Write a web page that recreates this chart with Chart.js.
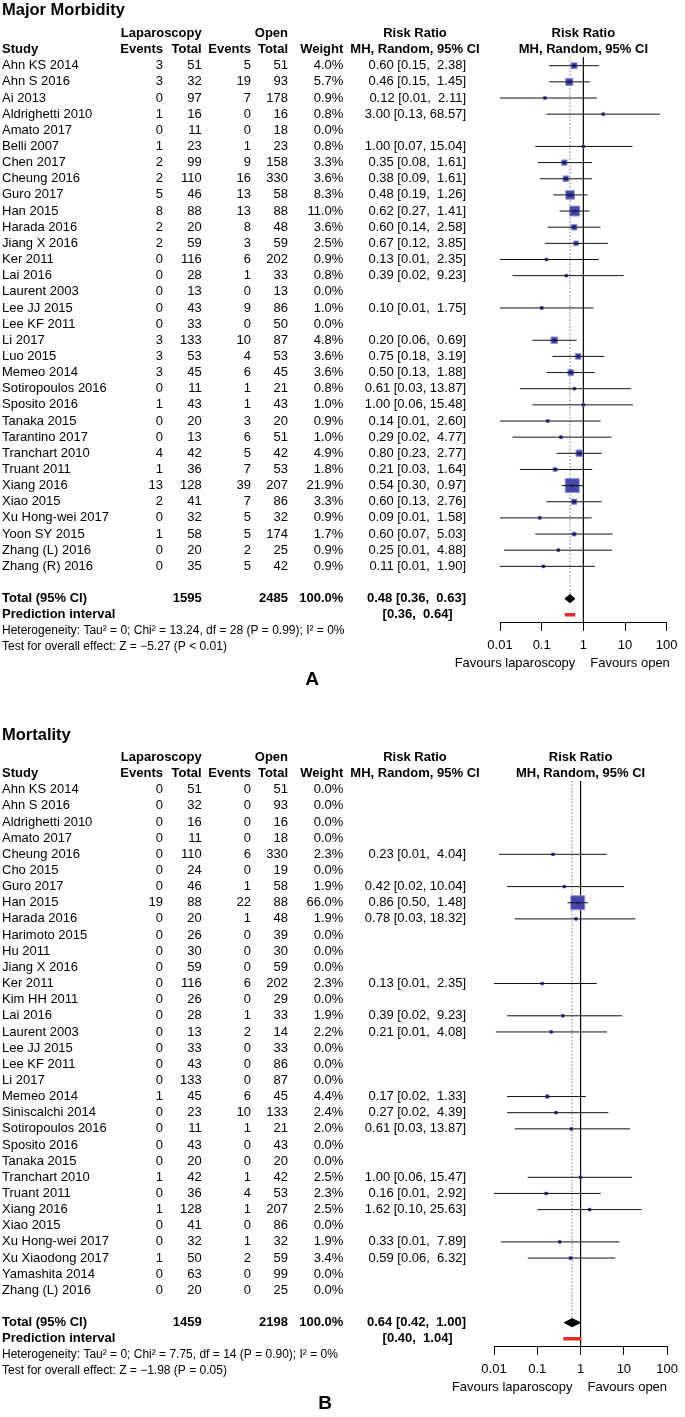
<!DOCTYPE html>
<html>
<head>
<meta charset="utf-8">
<script src="https://cdn.jsdelivr.net/npm/chart.js@4.4.1/dist/chart.umd.min.js"></script>
<style>
    html, body { margin: 0; padding: 0; background: #fff; }
    #wrap { position: relative; width: 685px; height: 1417px; }
    .panel { position: absolute; left: 0; }
</style>
</head>
<body>
<div id="wrap">
    <div class="panel" style="top:0"><canvas id="chartA" width="685" height="724"></canvas></div>
    <div class="panel" style="top:724px"><canvas id="chartB" width="685" height="693"></canvas></div>
</div>
<script>
// ---- data: Major Morbidity ----
const studiesA = ["Ahn KS 2014", "Ahn S 2016", "Ai 2013", "Aldrighetti 2010", "Amato 2017", "Belli 2007",
    "Chen 2017", "Cheung 2016", "Guro 2017", "Han 2015", "Harada 2016", "Jiang X 2016", "Ker 2011",
    "Lai 2016", "Laurent 2003", "Lee JJ 2015", "Lee KF 2011", "Li 2017", "Luo 2015", "Memeo 2014",
    "Sotiropoulos 2016", "Sposito 2016", "Tanaka 2015", "Tarantino 2017", "Tranchart 2010",
    "Truant 2011", "Xiang 2016", "Xiao 2015", "Xu Hong-wei 2017", "Yoon SY 2015", "Zhang (L) 2016",
    "Zhang (R) 2016"];
const lapEventsA = [3, 3, 0, 1, 0, 1, 2, 2, 5, 8, 2, 2, 0, 0, 0, 0, 0, 3, 3, 3, 0, 1, 0, 0, 4, 1, 13, 2, 0, 1, 0, 0];
const lapTotalA = [51, 32, 97, 16, 11, 23, 99, 110, 46, 88, 20, 59, 116, 28, 13, 43, 33, 133, 53, 45, 11, 43, 20, 13, 42, 36, 128, 41, 32, 58, 20, 35];
const openEventsA = [5, 19, 7, 0, 0, 1, 9, 16, 13, 13, 8, 3, 6, 1, 0, 9, 0, 10, 4, 6, 1, 1, 3, 6, 5, 7, 39, 7, 5, 5, 2, 5];
const openTotalA = [51, 93, 178, 16, 18, 23, 158, 330, 58, 88, 48, 59, 202, 33, 13, 86, 50, 87, 53, 45, 21, 43, 20, 51, 42, 53, 207, 86, 32, 174, 25, 42];
const weightA = [4.0, 5.7, 0.9, 0.8, 0.0, 0.8, 3.3, 3.6, 8.3, 11.0, 3.6, 2.5, 0.9, 0.8, 0.0, 1.0, 0.0, 4.8, 3.6, 3.6, 0.8, 1.0, 0.9, 1.0, 4.9, 1.8, 21.9, 3.3, 0.9, 1.7, 0.9, 0.9];
const rrA = [0.60, 0.46, 0.12, 3.00, null, 1.00, 0.35, 0.38, 0.48, 0.62, 0.60, 0.67, 0.13, 0.39, null, 0.10, null, 0.20, 0.75, 0.50, 0.61, 1.00, 0.14, 0.29, 0.80, 0.21, 0.54, 0.60, 0.09, 0.60, 0.25, 0.11];
const loA = [0.15, 0.15, 0.0068, 0.13, null, 0.07, 0.08, 0.09, 0.19, 0.27, 0.14, 0.12, 0.0075, 0.02, null, 0.006, null, 0.06, 0.18, 0.13, 0.03, 0.06, 0.0075, 0.02, 0.23, 0.03, 0.30, 0.13, 0.0057, 0.07, 0.0125, 0.006];
const hiA = [2.38, 1.45, 2.11, 68.57, null, 15.04, 1.61, 1.61, 1.26, 1.41, 2.58, 3.85, 2.35, 9.23, null, 1.75, null, 0.69, 3.19, 1.88, 13.87, 15.48, 2.60, 4.77, 2.77, 1.64, 0.97, 2.76, 1.58, 5.03, 4.88, 1.90];
const totalsA = [1595, 2485];
const pooledA = [0.48, 0.36, 0.63];
const predictA = [0.36, 0.64];
const hetA = ["Heterogeneity: Tau\u00b2 = 0; Chi\u00b2 = 13.24, df = 28 (P = 0.99); I\u00b2 = 0%",
    "Test for overall effect: Z = \u22125.27 (P < 0.01)"];

// ---- data: Mortality ----
const studiesB = ["Ahn KS 2014", "Ahn S 2016", "Aldrighetti 2010", "Amato 2017", "Cheung 2016", "Cho 2015",
    "Guro 2017", "Han 2015", "Harada 2016", "Harimoto 2015", "Hu 2011", "Jiang X 2016", "Ker 2011",
    "Kim HH 2011", "Lai 2016", "Laurent 2003", "Lee JJ 2015", "Lee KF 2011", "Li 2017", "Memeo 2014",
    "Siniscalchi 2014", "Sotiropoulos 2016", "Sposito 2016", "Tanaka 2015", "Tranchart 2010",
    "Truant 2011", "Xiang 2016", "Xiao 2015", "Xu Hong-wei 2017", "Xu Xiaodong 2017", "Yamashita 2014",
    "Zhang (L) 2016"];
const lapEventsB = [0, 0, 0, 0, 0, 0, 0, 19, 0, 0, 0, 0, 0, 0, 0, 0, 0, 0, 0, 1, 0, 0, 0, 0, 1, 0, 1, 0, 0, 1, 0, 0];
const lapTotalB = [51, 32, 16, 11, 110, 24, 46, 88, 20, 26, 30, 59, 116, 26, 28, 13, 33, 43, 133, 45, 23, 11, 43, 20, 42, 36, 128, 41, 32, 50, 63, 20];
const openEventsB = [0, 0, 0, 0, 6, 0, 1, 22, 1, 0, 0, 0, 6, 0, 1, 2, 0, 0, 0, 6, 10, 1, 0, 0, 1, 4, 1, 0, 1, 2, 0, 0];
const openTotalB = [51, 93, 16, 18, 330, 19, 58, 88, 48, 39, 30, 59, 202, 29, 33, 14, 33, 86, 87, 45, 133, 21, 43, 20, 42, 53, 207, 86, 32, 59, 99, 25];
const weightB = [0, 0, 0, 0, 2.3, 0, 1.9, 66.0, 1.9, 0, 0, 0, 2.3, 0, 1.9, 2.2, 0, 0, 0, 4.4, 2.4, 2.0, 0, 0, 2.5, 2.3, 2.5, 0, 1.9, 3.4, 0, 0];
const rrB = [null, null, null, null, 0.23, null, 0.42, 0.86, 0.78, null, null, null, 0.13, null, 0.39, 0.21, null, null, null, 0.17, 0.27, 0.61, null, null, 1.00, 0.16, 1.62, null, 0.33, 0.59, null, null];
const loB = [null, null, null, null, 0.013, null, 0.02, 0.50, 0.03, null, null, null, 0.0075, null, 0.02, 0.011, null, null, null, 0.02, 0.02, 0.03, null, null, 0.06, 0.0087, 0.10, null, 0.0145, 0.06, null, null];
const hiB = [null, null, null, null, 4.04, null, 10.04, 1.48, 18.32, null, null, null, 2.35, null, 9.23, 4.08, null, null, null, 1.33, 4.39, 13.87, null, null, 15.47, 2.92, 25.63, null, 7.89, 6.32, null, null];
const totalsB = [1459, 2198];
const pooledB = [0.64, 0.42, 1.00];
const predictB = [0.40, 1.04];
const hetB = ["Heterogeneity: Tau\u00b2 = 0; Chi\u00b2 = 7.75, df = 14 (P = 0.90); I\u00b2 = 0%",
    "Test for overall effect: Z = \u22121.98 (P = 0.05)"];

const tickValues = [0.01, 0.1, 1, 10, 100];
const tickLabels = ["0.01", "0.1", "1", "10", "100"];

// ---- layout ----
const FAM = '"Liberation Sans", Arial, Helvetica, sans-serif';
const REG = "13px " + FAM;
const BOLD = "bold 13px " + FAM;
const SMALL = "12px " + FAM;
const ROW_H = 16.15;
const Y_MIN = -0.55, Y_MAX = 34.5;
const TOP = 65.7 + Y_MIN * ROW_H;
const AXIS_H = 30;
const COL = { study: 2, lapEv: 163, lapTot: 201.7, openEv: 251, openTot: 288, weight: 343.3, ci: 466, rrHead: 415, pred: 452.7 };

function ciText(est, lo, hi) {
    const h = hi.toFixed(2);
    return (est !== null ? est.toFixed(2) + " " : "") + "[" + lo.toFixed(2) + "," + (h.length < 5 ? "  " : " ") + h + "]";
}

function makeTable(p) {
    return {
        id: "table" + p.key,
        afterDraw(chart) {
            const ctx = chart.ctx;
            const ys = chart.scales.y;
            const xs = chart.scales.x;
            const put = (t, x, r, align, font) => {
                ctx.font = font;
                ctx.textAlign = align;
                ctx.fillText(t, x, ys.getPixelForValue(r));
            };
            ctx.save();
            ctx.fillStyle = "#000";
            ctx.textBaseline = "middle";

            put(p.title, 2, p.titleRow, "left", "bold 16.5px " + FAM);
            // headers
            put("Laparoscopy", COL.lapTot, -2, "right", BOLD);
            put("Open", COL.openTot, -2, "right", BOLD);
            put("Risk Ratio", COL.rrHead, -2, "center", BOLD);
            put("Risk Ratio", xs.getPixelForValue(1), -2, "center", BOLD);
            put("Study", 2, -1, "left", BOLD);
            put("Events", COL.lapEv, -1, "right", BOLD);
            put("Total", COL.lapTot, -1, "right", BOLD);
            put("Events", COL.openEv, -1, "right", BOLD);
            put("Total", COL.openTot, -1, "right", BOLD);
            put("Weight", COL.weight, -1, "right", BOLD);
            put("MH, Random, 95% CI", COL.rrHead, -1, "center", BOLD);
            put("MH, Random, 95% CI", xs.getPixelForValue(1), -1, "center", BOLD);

            // study rows
            p.studies.forEach((s, i) => {
                put(s, 2, i, "left", REG);
                put(String(p.lapEv[i]), COL.lapEv, i, "right", REG);
                put(String(p.lapTot[i]), COL.lapTot, i, "right", REG);
                put(String(p.openEv[i]), COL.openEv, i, "right", REG);
                put(String(p.openTot[i]), COL.openTot, i, "right", REG);
                put(p.weight[i].toFixed(1) + "%", COL.weight, i, "right", REG);
                if (p.rr[i] !== null) put(ciText(p.rr[i], p.lo[i], p.hi[i]), COL.ci, i, "right", REG);
            });

            const n = p.studies.length;
            put("Total (95% CI)", 2, n + 1, "left", BOLD);
            put(String(p.totals[0]), COL.lapTot, n + 1, "right", BOLD);
            put(String(p.totals[1]), COL.openTot, n + 1, "right", BOLD);
            put("100.0%", COL.weight, n + 1, "right", BOLD);
            put(ciText(p.pooled[0], p.pooled[1], p.pooled[2]), COL.ci, n + 1, "right", BOLD);
            put("Prediction interval", 2, n + 2, "left", BOLD);
            put(ciText(null, p.predict[0], p.predict[1]), COL.pred, n + 2, "right", BOLD);
            put(p.het[0], 2, n + 3, "left", SMALL);
            put(p.het[1], 2, n + 4, "left", SMALL);

            put("Favours laparoscopy", xs.getPixelForValue(1) - 8, n + 5, "right", REG);
            put("Favours open", xs.getPixelForValue(1) + 7, n + 5, "left", REG);
            put(p.letter, p.letterX, n + 6, "center", "bold 19px " + FAM);
            ctx.restore();
        }
    };
}

function buildChart(id, p) {
    const canvas = document.getElementById(id);
    const n = p.studies.length;
    const maxW = Math.max(...p.weight);

    const points = [];
    const sizes = [];
    const ciLines = [];
    for (let i = 0; i < n; i ++) {
        if (p.rr[i] === null) continue;
        points.push({ x: p.rr[i], y: i });
        const side = Math.max(2.6, 14 * Math.sqrt(p.weight[i] / maxW));
        sizes.push(side / Math.SQRT2);
        ciLines.push({ x: p.lo[i], y: i }, { x: p.hi[i], y: i }, { x: NaN, y: NaN });
    }

    const totRow = n + 1;
    const dh = 0.25;   // diamond half height in rows
    const diamond = [
        { x: p.pooled[1], y: totRow }, { x: p.pooled[0], y: totRow - dh },
        { x: p.pooled[2], y: totRow }, { x: p.pooled[0], y: totRow + dh },
        { x: p.pooled[1], y: totRow }
    ];

    const lineDs = (data, extra) => Object.assign({
        data: data, showLine: true, pointRadius: 0, tension: 0, fill: false, borderWidth: 1
    }, extra);

    const padBottom = canvas.height - (TOP + (Y_MAX - Y_MIN) * ROW_H) - AXIS_H;

    new Chart(canvas, {
        type: "scatter",
        data: {
            datasets: [
                { data: points, pointStyle: "rect", pointRadius: 1.9, backgroundColor: "#1c1c5e", borderWidth: 0 },
                lineDs(ciLines, { borderColor: "#111" }),
                { data: points, pointStyle: "rect", pointRadius: sizes, backgroundColor: "#4646aa", borderColor: "#9494d4", borderWidth: 1 },
                lineDs(diamond, { fill: "shape", backgroundColor: "#000", borderColor: "#000" }),
                lineDs([{ x: p.predict[0], y: n + 2 }, { x: p.predict[1], y: n + 2 }], { borderColor: "#e2302a", borderWidth: 3.5 }),
                lineDs([{ x: p.pooled[0], y: Y_MIN }, { x: p.pooled[0], y: totRow - dh - 0.05 }], { borderColor: "#777", borderDash: [1.5, 2] }),
                lineDs([{ x: 1, y: Y_MIN }, { x: 1, y: Y_MAX }], { borderColor: "#000", borderWidth: 1.2 })
            ]
        },
        options: {
            responsive: false,
            animation: false,
            events: [],
            layout: {
                padding: { left: p.padLeft, right: p.padRight, top: TOP, bottom: padBottom }
            },
            plugins: {
                legend: { display: false },
                tooltip: { enabled: false }
            },
            scales: {
                x: {
                    type: "logarithmic",
                    min: 0.01,
                    max: 100,
                    afterBuildTicks: (s) => { s.ticks = tickValues.map(v => ({ value: v })); },
                    afterFit: (s) => { s.height = AXIS_H; },
                    ticks: {
                        callback: (v, i) => tickLabels[i],
                        autoSkip: false,
                        maxRotation: 0,
                        padding: 7,
                        color: "#000",
                        font: { family: FAM, size: 13 }
                    },
                    grid: { display: true, drawOnChartArea: false, drawTicks: true, tickLength: 8, color: "#000", lineWidth: 1 },
                    border: { display: true, color: "#000", width: 1 }
                },
                y: { type: "linear", reverse: true, min: Y_MIN, max: Y_MAX, display: false }
            }
        },
        plugins: [makeTable(p)]
    });
}

window.addEventListener("DOMContentLoaded", () => {
    buildChart("chartA", {
        key: "A", title: "Major Morbidity", titleRow: -3.45, letter: "A", letterX: 312,
        studies: studiesA, lapEv: lapEventsA, lapTot: lapTotalA, openEv: openEventsA, openTot: openTotalA,
        weight: weightA, rr: rrA, lo: loA, hi: hiA, totals: totalsA, pooled: pooledA, predict: predictA, het: hetA,
        padLeft: 500, padRight: 685 - 666.7
    });
    buildChart("chartB", {
        key: "B", title: "Mortality", titleRow: -3.35, letter: "B", letterX: 325,
        studies: studiesB, lapEv: lapEventsB, lapTot: lapTotalB, openEv: openEventsB, openTot: openTotalB,
        weight: weightB, rr: rrB, lo: loB, hi: hiB, totals: totalsB, pooled: pooledB, predict: predictB, het: hetB,
        padLeft: 494, padRight: 685 - 673.3
    });
});
</script>
</body>
</html>
